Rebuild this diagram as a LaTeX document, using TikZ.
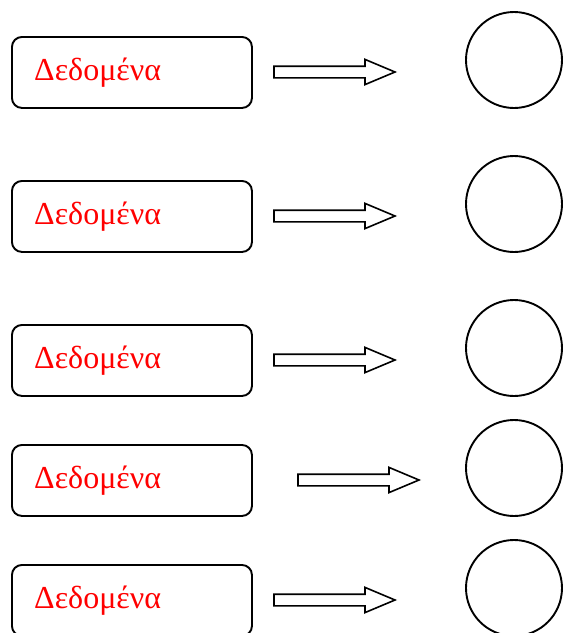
\documentclass[tikz,border=0pt]{standalone}
\usepackage{fontspec}
\setmainfont{Liberation Serif}
\begin{document}
\begin{tikzpicture}[x=1pt,y=-1pt,
  databox/.style={draw, line width=1.9pt, rounded corners=10pt, minimum width=240pt,
    minimum height=71pt, inner sep=0pt, anchor=north west},
  datalabel/.style={text=red, font=\fontsize{32}{38}\selectfont, inner sep=0pt, anchor=base west},
  result/.style={draw, circle, line width=1.9pt, minimum size=96pt, inner sep=0pt},
  blockarrow/.style={draw, line width=1.6pt, fill=white}]
\useasboundingbox (0,0) rectangle (565,633);
\clip (0,0) rectangle (565,633);
% rows: top edge of box, horizontal shift of the arrow
\foreach \t/\s [count=\i] in {36/0, 180/0, 324/0, 444/24, 564/0} {
  \node[databox] (box\i) at (11,\t) {};
  \node[datalabel] (lab\i) at (34,\t+44) {Δεδομένα};
  \node[result] (res\i) at (514,\t+24) {};
  % hollow block arrow from the box towards the circle
  \coordinate (arr\i) at (274+\s,\t+36);
  \draw[blockarrow] (arr\i) ++(0,-5.8) -- ++(91,0) -- ++(0,-6.8) -- ++(30,12.6)
    -- ++(-30,12.6) -- ++(0,-6.8) -- ++(-91,0) -- cycle;
}
\end{tikzpicture}
\end{document}
